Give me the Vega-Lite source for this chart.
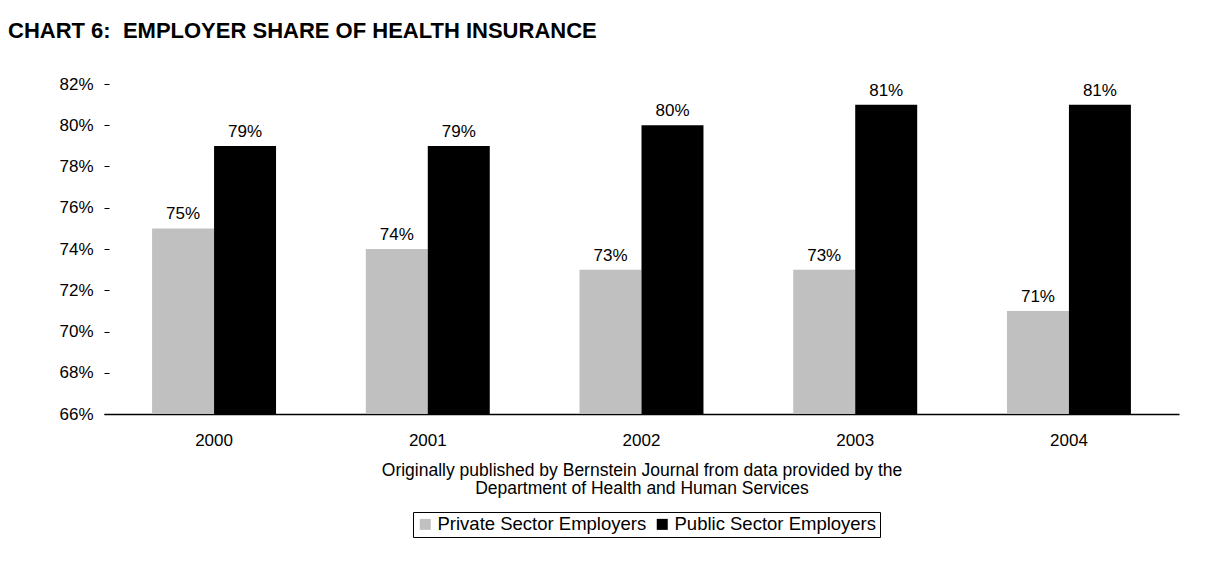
{
  "$schema": "https://vega.github.io/schema/vega-lite/v6.json",
  "width": 1075,
  "height": 330,
  "autosize": {"type": "none"},
  "padding": {"left": 104, "top": 84, "right": 51, "bottom": 166},
  "background": "white",
  "config": {
    "view": {"stroke": null},
    "font": "Liberation Sans",
    "axis": {"grid": false, "labelFont": "Liberation Sans", "titleFont": "Liberation Sans"}
  },
  "title": {
    "text": "CHART 6:\u00a0 EMPLOYER SHARE OF HEALTH INSURANCE",
    "anchor": "start",
    "frame": "group",
    "dx": -96,
    "offset": 32,
    "fontSize": 22,
    "fontWeight": "bold",
    "color": "black",
    "font": "Liberation Sans"
  },
  "data": {
    "values": [
      {"year": "2000", "sector": "Private Sector Employers", "share": 0.75},
      {"year": "2000", "sector": "Public Sector Employers", "share": 0.79},
      {"year": "2001", "sector": "Private Sector Employers", "share": 0.74},
      {"year": "2001", "sector": "Public Sector Employers", "share": 0.79},
      {"year": "2002", "sector": "Private Sector Employers", "share": 0.73},
      {"year": "2002", "sector": "Public Sector Employers", "share": 0.80},
      {"year": "2003", "sector": "Private Sector Employers", "share": 0.73},
      {"year": "2003", "sector": "Public Sector Employers", "share": 0.81},
      {"year": "2004", "sector": "Private Sector Employers", "share": 0.71},
      {"year": "2004", "sector": "Public Sector Employers", "share": 0.81}
    ]
  },
  "encoding": {
    "x": {
      "field": "year",
      "type": "nominal",
      "scale": {"paddingInner": 0.42, "paddingOuter": 0.225},
      "axis": {
        "labelAngle": 0,
        "labelFontSize": 17,
        "labelColor": "black",
        "labelPadding": 18,
        "ticks": false,
        "domainColor": "black",
        "domainWidth": 1.5,
        "title": ["Originally published by Bernstein Journal from data provided by the", "Department of Health and Human Services"],
        "titleFontSize": 17.5,
        "titleFontWeight": "normal",
        "titleColor": "black",
        "titleLineHeight": 18,
        "titlePadding": 13
      }
    },
    "xOffset": {"field": "sector", "type": "nominal", "sort": ["Private Sector Employers", "Public Sector Employers"]},
    "y": {
      "field": "share",
      "type": "quantitative",
      "scale": {"domain": [0.66, 0.82], "zero": false, "nice": false},
      "axis": {
        "values": [0.66, 0.68, 0.70, 0.72, 0.74, 0.76, 0.78, 0.80, 0.82],
        "format": ".0%",
        "domain": false,
        "tickColor": "black",
        "tickSize": 5,
        "offset": -5,
        "labelPadding": 11,
        "labelFontSize": 17,
        "labelColor": "black",
        "title": null
      }
    }
  },
  "layer": [
    {
      "mark": {"type": "bar", "clip": true},
      "encoding": {
        "color": {
          "field": "sector",
          "type": "nominal",
          "scale": {"domain": ["Private Sector Employers", "Public Sector Employers"], "range": ["#c0c0c0", "#000000"]},
          "legend": {
            "orient": "none",
            "legendX": 309,
            "legendY": 428,
            "direction": "horizontal",
            "title": null,
            "symbolType": "square",
            "symbolSize": 121,
            "symbolStrokeWidth": 0,
            "symbolOpacity": 1,
            "labelFontSize": 18.5,
            "labelLimit": 0,
            "labelColor": "black",
            "labelFont": "Liberation Sans",
            "strokeColor": "black",
            "padding": 3,
            "columnPadding": 6,
            "labelOffset": 3
          }
        }
      }
    },
    {
      "mark": {"type": "text", "dy": -9, "baseline": "alphabetic", "fontSize": 17, "color": "black"},
      "encoding": {
        "text": {"field": "share", "type": "quantitative", "format": ".0%"}
      }
    }
  ]
}
